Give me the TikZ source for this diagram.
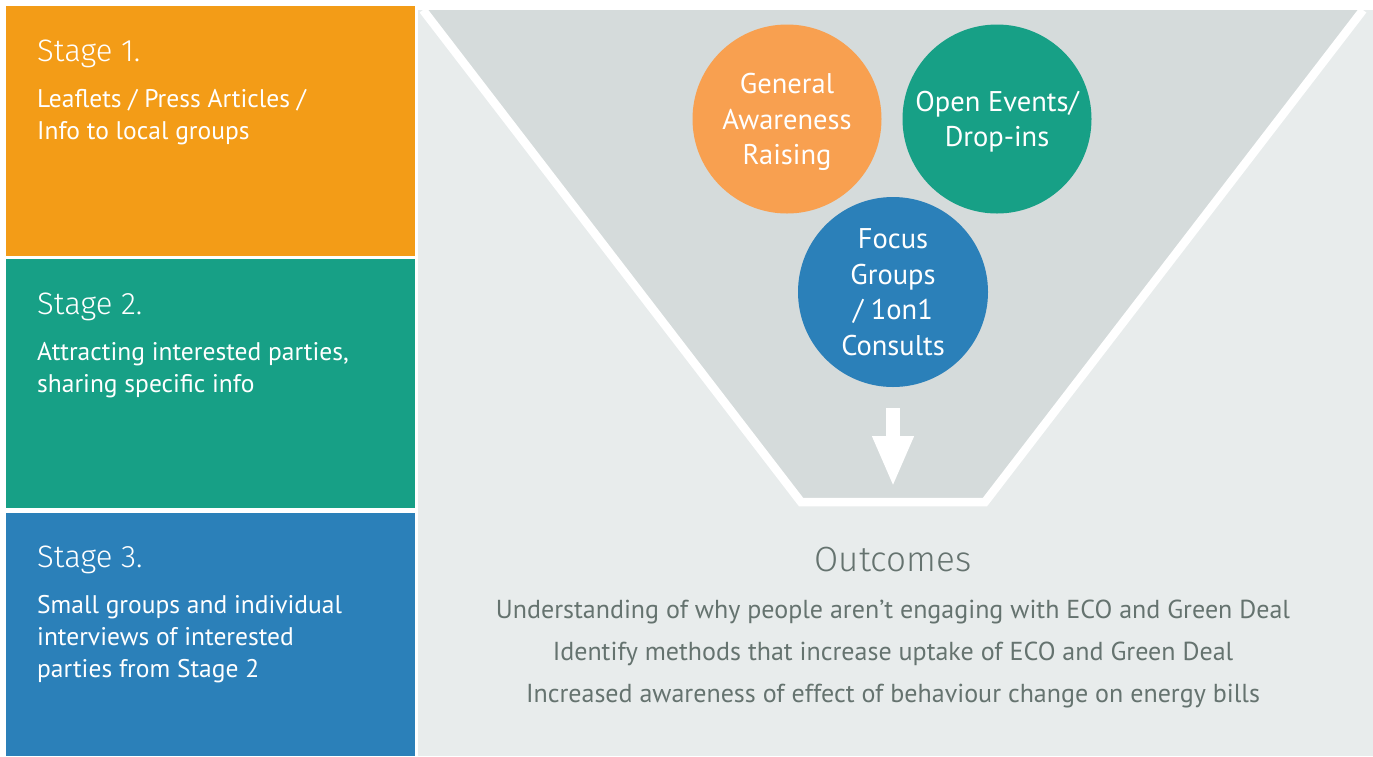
\documentclass[tikz,border=0pt]{standalone}
\usepackage{fontspec}
\setmainfont{PT Sans}
\newfontfamily\thinfont{Fira Sans Light}
\usetikzlibrary{arrows.meta, positioning}

\definecolor{stageorange}{HTML}{F39C17}
\definecolor{stageteal}{HTML}{17A086}
\definecolor{stageblue}{HTML}{2B80B9}
\definecolor{bubbleorange}{HTML}{F8A050}
\definecolor{panelgrey}{HTML}{E8ECEC}
\definecolor{funnelgrey}{HTML}{D5DBDB}
\definecolor{outgrey}{HTML}{65736F}

\begin{document}
\begin{tikzpicture}[x=1pt,y=-1pt,
  stage/.style={anchor=north west, inner sep=0pt, minimum width=409pt},
  stagetitle/.style={anchor=base west, inner sep=0pt, text=white,
    font={\thinfont\fontsize{31}{36}\selectfont}},
  stagetext/.style={anchor=base west, inner sep=0pt, text=white, align=left,
    font={\fontsize{25.5}{32}\selectfont}},
  bubble/.style={circle, minimum size=189pt, inner sep=0pt, text=white,
    align=center, text depth=0pt, font={\fontsize{28.5}{35.5}\selectfont}},
  outline/.style={anchor=base, inner sep=0pt, text=outgrey, align=center,
    font={\fontsize{26}{42}\selectfont}}]

\useasboundingbox (0,0) rectangle (1373,756);

% stages on the left (base anchor = last line)
\node[stage, fill=stageorange, minimum height=250pt] (s1) at (6,6) {};
\node[stage, fill=stageteal, minimum height=249pt] (s2) at (6,259) {};
\node[stage, fill=stageblue, minimum height=243pt] (s3) at (6,513) {};

\node[stagetitle] (s1title) at ([shift={(31,55)}]s1.north west) {Stage 1.};
\node[stagetext] (s1text) at ([shift={(31,133)}]s1.north west)
  {Leaflets / Press Articles /\\Info to local groups};
\node[stagetitle] (s2title) at ([shift={(31,55)}]s2.north west) {Stage 2.};
\node[stagetext] (s2text) at ([shift={(31,133)}]s2.north west)
  {Attracting interested parties,\\sharing specific info};
\node[stagetitle] (s3title) at ([shift={(31,54)}]s3.north west) {Stage 3.};
\node[stagetext] (s3text) at ([shift={(31,164)}]s3.north west)
  {Small groups and individual\\interviews of interested\\parties from Stage 2};

% funnel
\fill[panelgrey] (418,10) rectangle (1373,756);
\coordinate (ftl) at (423,10);
\coordinate (fbl) at (801,502);
\coordinate (fbr) at (985,502);
\coordinate (ftr) at (1363,10);
\fill[funnelgrey] (ftl) -- (fbl) -- (fbr) -- (ftr) -- cycle;
\draw[white, line width=8.5pt] (ftl) -- (fbl) -- (fbr) -- (ftr);

\node[bubble, fill=bubbleorange] (aware) at (787,119) {General\\Awareness\\Raising};
\node[bubble, fill=stageteal] (events) at (997,119) {Open Events/\\Drop-ins};
\node[bubble, fill=stageblue, minimum size=190pt] (focus) at (893,292)
  {Focus\\Groups\\/ 1on1\\Consults};

\coordinate (arrtop) at (893,408);
\coordinate (arrtip) at (893,487);
\draw[white, line width=14pt, -{Triangle[width=38pt,length=51pt]}] (arrtop) -- (arrtip);

% outcomes
\node[anchor=base, inner sep=0pt, text=outgrey,
  font={\thinfont\fontsize{35}{40}\selectfont}] (outcomes) at (893,571) {Outcomes};
\node[outline] (outlist) at (893,702)
  {Understanding of why people aren’t engaging with ECO and Green Deal\\
   Identify methods that increase uptake of ECO and Green Deal\\
   Increased awareness of effect of behaviour change on energy bills};
\end{tikzpicture}
\end{document}
